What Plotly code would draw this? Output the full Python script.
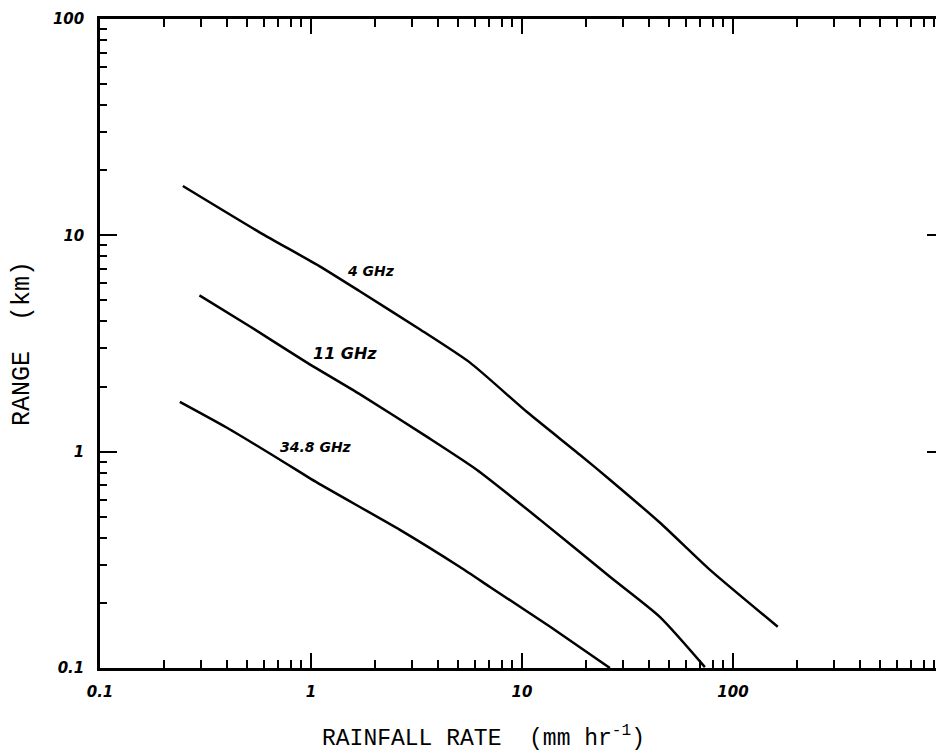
import numpy as np
import plotly.graph_objects as go

# Rainfall rate (mm/hr) and range (km)
x_4ghz = [0.247, 0.573, 1.10, 1.71, 3.29, 5.67, 10.6, 18.8, 26.1, 45.1, 77.8, 163]
y_4ghz = [16.9, 10.3, 7.19, 5.50, 3.67, 2.58, 1.52, 0.968, 0.742, 0.469, 0.284, 0.155]

x_11ghz = [0.296, 0.514, 0.957, 1.71, 3.55, 6.10, 12.2, 26.1, 45.1, 73.6]
y_11ghz = [5.28, 3.79, 2.58, 1.84, 1.17, 0.825, 0.484, 0.264, 0.172, 0.101]

x_348ghz = [0.239, 0.400, 0.713, 1.07, 2.64, 5.08, 7.05, 13.6, 26.1]
y_348ghz = [1.70, 1.29, 0.918, 0.719, 0.435, 0.293, 0.237, 0.155, 0.100]

labels = ["4 GHz", "11 GHz", "34.8 GHz"]
label_x = [1.92, 1.45, 1.056]
label_y = [6.81, 2.84, 1.055]
label_size = [14, 16, 14]

x_tickvals = [0.1, 1, 10, 100]
x_ticktext = ["0.1", "1", "10", "100"]
y_tickvals = [0.1, 1, 10, 100]
y_ticktext = ["0.1", "1", "10", "100"]
minor_vals = [k * 10.0 ** e for e in range(-1, 3) for k in range(2, 10)]

x_title = "RAINFALL RATE  (mm hr<sup>-1</sup>)"
y_title = "RANGE  (km)"

fig = go.Figure()
for xs, ys in [(x_4ghz, y_4ghz), (x_11ghz, y_11ghz), (x_348ghz, y_348ghz)]:
    fig.add_trace(go.Scatter(x=xs, y=ys, mode="lines",
                             line=dict(color="black", width=2.5,
                                       shape="spline", smoothing=0.6),
                             showlegend=False, hoverinfo="skip"))

for t, lx, ly, s in zip(labels, label_x, label_y, label_size):
    fig.add_annotation(x=np.log10(lx), y=np.log10(ly), xref="x", yref="y",
                       text=t, showarrow=False,
                       font=dict(family="DejaVu Sans", size=s, color="black",
                                 style="italic", weight="bold"))

# x-axis title (placed slightly left of centre as in the reference)
fig.add_annotation(x=0.454, y=-0.106, xref="paper", yref="paper",
                   xanchor="center", yanchor="middle", showarrow=False,
                   text=x_title,
                   font=dict(family="Liberation Mono", size=23, color="black"))

tickfont = dict(family="DejaVu Sans", size=15, color="black",
                style="italic", weight="bold")
axis_common = dict(type="log", showgrid=False, zeroline=False,
                   showline=True, linecolor="black", linewidth=2.5,
                   mirror="ticks", ticks="inside", tickcolor="black",
                   tickwidth=2, tickfont=tickfont, automargin=False)

fig.update_xaxes(range=[-1, 3], tickmode="array", tickvals=x_tickvals,
                 ticktext=x_ticktext, ticklen=15, ticklabelstandoff=8,
                 minor=dict(tickmode="array", tickvals=minor_vals,
                            ticks="inside", ticklen=8, tickwidth=2,
                            tickcolor="black", showgrid=False),
                 **axis_common)
fig.update_yaxes(range=[-1, 2], tickmode="array", tickvals=y_tickvals,
                 ticktext=y_ticktext, ticklen=17, ticklabelstandoff=10,
                 minor=dict(tickmode="array", tickvals=minor_vals,
                            ticks="inside", ticklen=7, tickwidth=2,
                            tickcolor="black", showgrid=False),
                 title=dict(text=y_title,
                            font=dict(family="Liberation Mono", size=25,
                                      color="black"),
                            standoff=44),
                 **axis_common)

fig.update_layout(width=944, height=753,
                  margin=dict(l=92, r=8, t=11, b=93),
                  paper_bgcolor="white", plot_bgcolor="white")

fig.write_html("out.html")
